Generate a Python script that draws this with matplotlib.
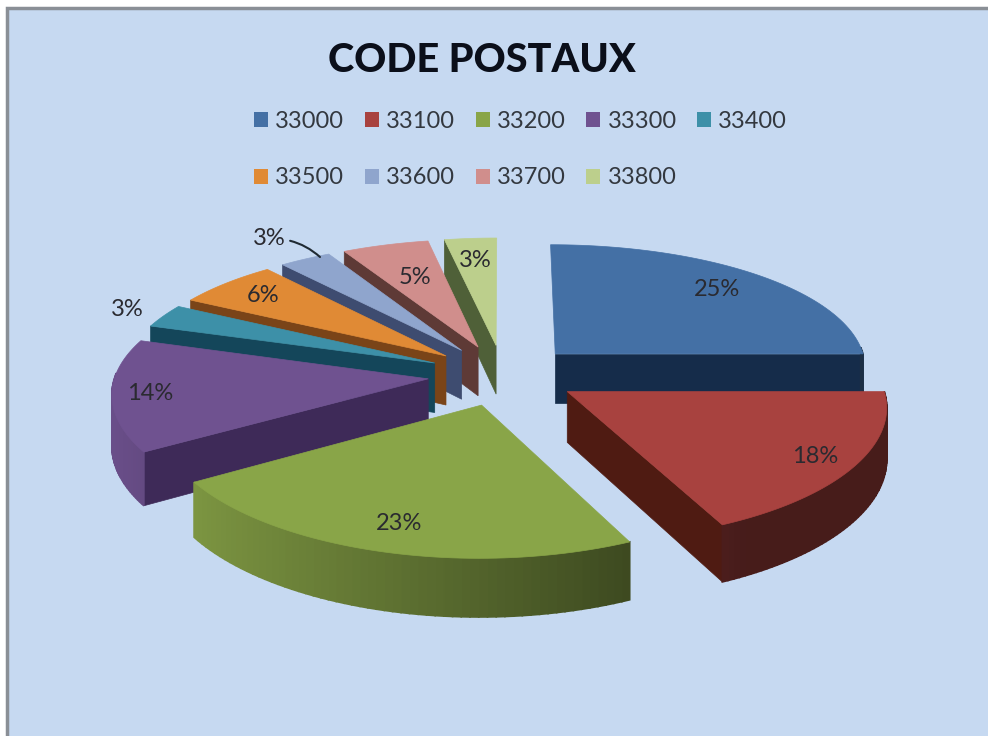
import numpy as np
import matplotlib
matplotlib.use('Agg')
import matplotlib.pyplot as plt
from matplotlib.patches import Patch, Rectangle
from matplotlib.colors import to_rgb

codes = ['33000', '33100', '33200', '33300', '33400', '33500', '33600', '33700', '33800']
values = [25, 18, 23, 14, 3, 6, 3, 5, 3]
top_colors = ['#4470a5', '#a8423f', '#89a548', '#6f5290', '#3d90a8', '#e08a35', '#8fa5cd', '#d08e8c', '#bccf8c']
side_colors = ['#152c4a', '#4f1b12', '#3e2a58', '#3e2a58', '#14465a', '#7a4418', '#3e4c70', '#5e3a36', '#4f6038']
label_pos = [0.80, 0.87, 0.83, 0.88, 1.14, 0.82, 1.25, 0.66, 0.78]

# layout of the fake 3d pie, in pixels
cx, cy = 503, 375
rx, ry = 313, 127
persp_x = 0.10
persp_y = 0.12
explode = 0.24
depth = 50

plt.rcParams['font.family'] = ['Lato', 'DejaVu Sans']


def project(x, y):
    p = 1 / (1 + persp_y * y)
    return cx + rx * x / (1 + persp_x * y), cy - ry * y * p, depth * p


def shade(color, f):
    return tuple(min(1, c * f) for c in to_rgb(color))


fig = plt.figure(figsize=(9.88, 7.36), dpi=100)
ax = fig.add_axes([0, 0, 1, 1])
ax.set_xlim(0, 988)
ax.set_ylim(736, 0)
ax.axis('off')
ax.add_patch(Rectangle((7, 8), 990, 740, fc='#c6d9f1', ec='#8a8f96', lw=2.5))

edges = np.cumsum([0] + values) / sum(values) * 2 * np.pi
order = sorted(range(len(values)), key=lambda i: -np.cos((edges[i] + edges[i + 1]) / 2))

for i in order:
    t0, t1 = edges[i], edges[i + 1]
    mid = (t0 + t1) / 2
    ox, oy = explode * np.sin(mid), explode * np.cos(mid)
    ts = np.linspace(t0, t1, 60)
    ax0, ay0, ad0 = project(ox, oy)
    px, py, pd = project(ox + np.sin(ts), oy + np.cos(ts))

    # radial side walls that face the viewer
    for t, k in ((t0, 0), (t1, -1)):
        normal = t - np.pi / 2 if k == 0 else t + np.pi / 2
        if np.cos(normal) < 0:
            ax.fill([ax0, px[k], px[k], ax0], [ay0, py[k], py[k] + pd[k], ay0 + ad0],
                    color=side_colors[i], lw=0.5, zorder=2)
    # outer wall, shaded strip by strip
    for j in range(len(ts) - 1):
        tm = (ts[j] + ts[j + 1]) / 2
        if np.cos(tm) < 0.05:
            f = np.clip(0.60 - 0.36 * np.sin(tm), 0.42, 0.95)
            ax.fill([px[j], px[j + 1], px[j + 1], px[j]],
                    [py[j], py[j + 1], py[j + 1] + pd[j + 1], py[j] + pd[j]],
                    color=shade(top_colors[i], f), lw=1.2, zorder=2)
    ax.fill(np.r_[ax0, px], np.r_[ay0, py], color=top_colors[i], lw=0.5, zorder=2)

    lx, ly, _ = project(ox + label_pos[i] * np.sin(mid), oy + label_pos[i] * np.cos(mid))
    txt = '%d%%' % values[i]
    color = '#2a2a30'
    if codes[i] == '33600':
        ax.annotate(txt, xy=(320, 257), xytext=(lx, ly), ha='center', va='center', fontsize=17,
                    color=color, zorder=3,
                    arrowprops=dict(arrowstyle='-', color='#1f2a33', lw=1.5,
                                    connectionstyle='arc3,rad=-0.2', shrinkA=1, shrinkB=0))
    else:
        ax.text(lx, ly, txt, ha='center', va='center', fontsize=17, color=color, zorder=3)

ax.text(482, 60, 'CODE POSTAUX', ha='center', va='center', fontsize=28.5, fontweight='black', color='#0b0f1a')

# legend fills column by column, so pair the rows up
handles = [Patch(fc=c, ec='none') for c in top_colors]
ids = [0, 5, 1, 6, 2, 7, 3, 8, 4]
ax.legend([handles[i] for i in ids], [codes[i] for i in ids], ncol=5, loc='upper left',
          bbox_to_anchor=(254, 111), bbox_transform=ax.transData, frameon=False, fontsize=17,
          labelcolor='#33383f', handlelength=0.6, handleheight=0.6, handletextpad=0.3,
          columnspacing=0.87, labelspacing=1.5, borderpad=0, borderaxespad=0)

fig.savefig('out.png', dpi=100)
